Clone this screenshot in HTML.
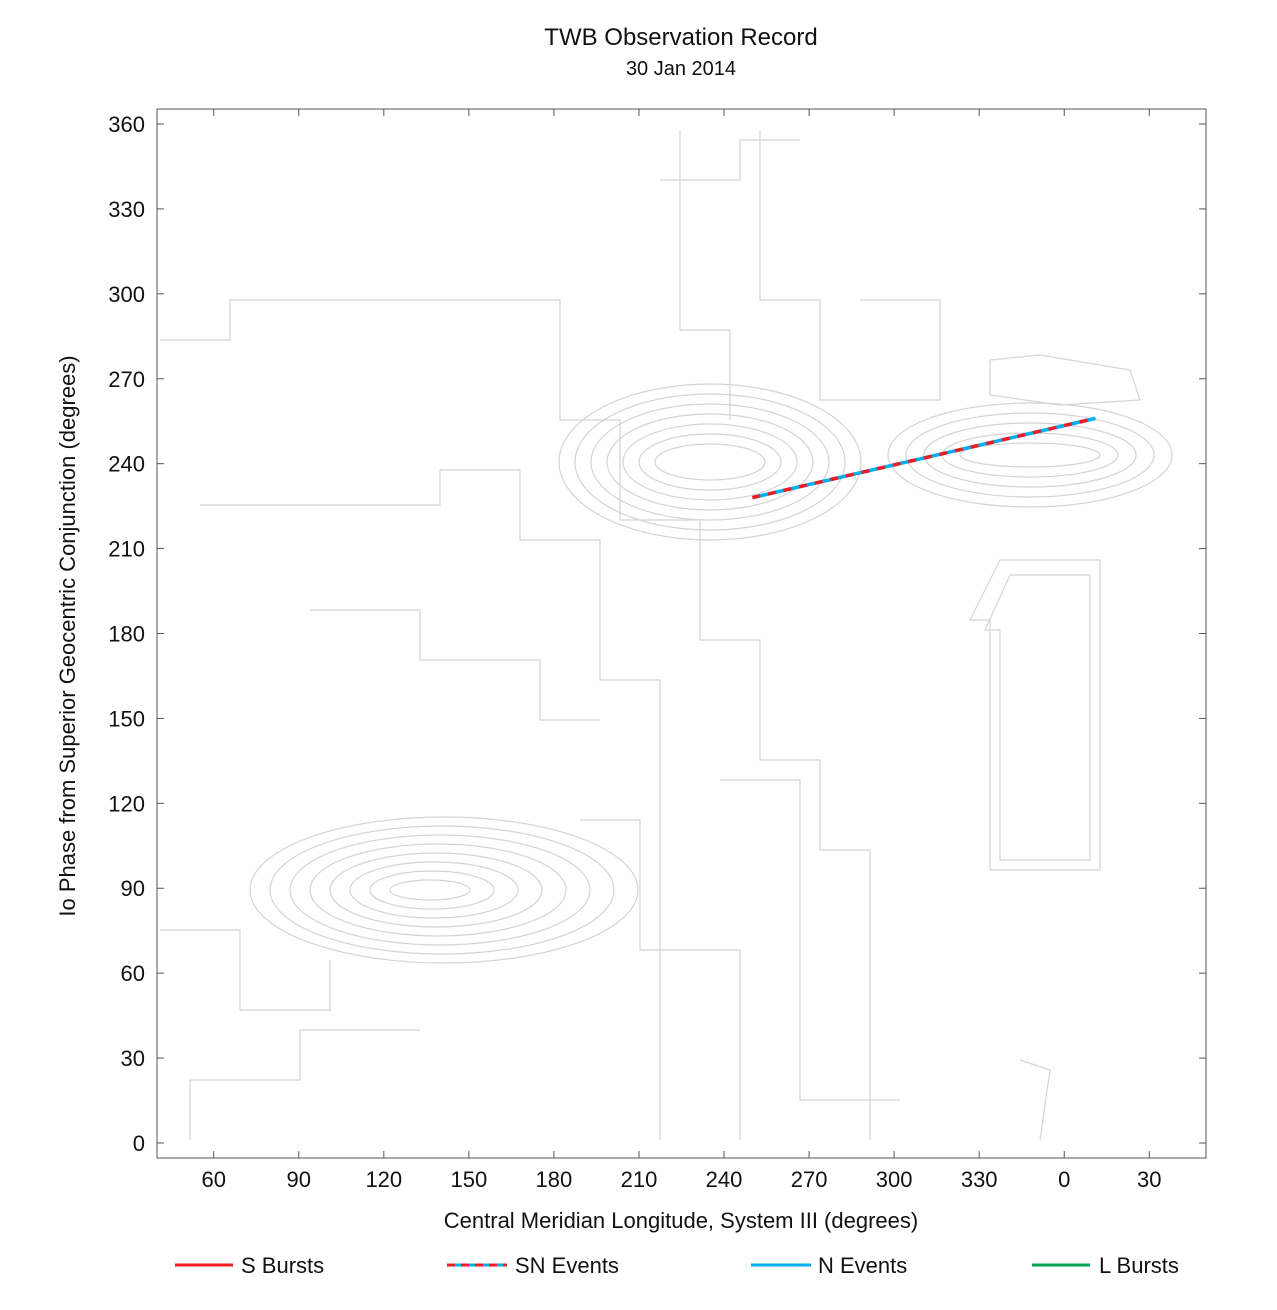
<!DOCTYPE html>
<html><head><meta charset="utf-8"><style>
body{margin:0;background:#fff;font-family:"Liberation Sans",sans-serif}
svg text{font-family:"Liberation Sans",sans-serif;fill:#111}
</style></head><body>
<svg id="chart" width="1277" height="1305" xmlns="http://www.w3.org/2000/svg">
<rect width="1277" height="1305" fill="#fff"/>
<text x="681" y="45" font-size="24" text-anchor="middle">TWB Observation Record</text>
<text x="681" y="75" font-size="20" text-anchor="middle">30 Jan 2014</text>
<g id="contours" fill="none" stroke="#d4d4d4" stroke-width="1.2"></g>
<g id="marks"></g>
<rect x="157" y="109" width="1049" height="1049" fill="none" stroke="#555" stroke-width="1"/>
<g id="axes"></g>
<text x="681" y="1228" font-size="22" text-anchor="middle">Central Meridian Longitude, System III (degrees)</text>
<text transform="translate(75,636) rotate(-90)" font-size="22" text-anchor="middle">Io Phase from Superior Geocentric Conjunction (degrees)</text>
<g>
<g><line x1="175" y1="1265" x2="233" y2="1265" stroke="#ee1c24" stroke-width="3"/><text x="241" y="1273" font-size="22">S Bursts</text></g>
<g><line x1="447" y1="1265" x2="507" y2="1265" stroke="#00aeef" stroke-width="3"/><line x1="447" y1="1265" x2="507" y2="1265" stroke="#ee1c24" stroke-width="3" stroke-dasharray="8 6"/><text x="515" y="1273" font-size="22">SN Events</text></g>
<g><line x1="751" y1="1265" x2="811" y2="1265" stroke="#00aeef" stroke-width="3"/><text x="818" y="1273" font-size="22">N Events</text></g>
<g><line x1="1032" y1="1265" x2="1090" y2="1265" stroke="#00a650" stroke-width="3"/><text x="1099" y="1273" font-size="22">L Bursts</text></g>
</g>
</svg>
<script>
const xTicks=[60,90,120,150,180,210,240,270,300,330,360,390];
const xTickLabels=["60","90","120","150","180","210","240","270","300","330","0","30"];
const yTicks=[0,30,60,90,120,150,180,210,240,270,300,330,360];
const snStartCML=[250];
const snEndCML=[371];
const snStartPhase=[228];
const snEndPhase=[256];
const NS="http://www.w3.org/2000/svg";
const X0=157,X1=1206,Y0=109,Y1=1158,XMIN=40,XMAX=410,YMIN=-5.3,YMAX=365.3;
function sx(v){return X0+(v-XMIN)/(XMAX-XMIN)*(X1-X0);}
function sy(v){return Y1-(v-YMIN)/(YMAX-YMIN)*(Y1-Y0);}
function mk(t,a,p){const e=document.createElementNS(NS,t);for(const k in a)e.setAttribute(k,a[k]);(p).appendChild(e);return e;}
const axes=document.getElementById('axes');
xTicks.forEach((v,i)=>{
 const x=sx(v);
 const l=mk('line',{x1:x,x2:x,y1:Y1,y2:Y1-7,stroke:'#555'},axes);
 
 
 const l2=mk('line',{x1:x,x2:x,y1:Y0,y2:Y0+7,stroke:'#555'},axes);
 
 
 const t=mk('text',{x:x,y:1187,'font-size':22,'text-anchor':'middle'},axes);
 t.textContent=xTickLabels[i];
 
 
});
yTicks.forEach(v=>{
 const y=sy(v);
 const l=mk('line',{x1:X0,x2:X0+7,y1:y,y2:y,stroke:'#555'},axes);
 
 
 const l2=mk('line',{x1:X1,x2:X1-7,y1:y,y2:y,stroke:'#555'},axes);
 
 
 const t=mk('text',{x:145,y:y+8,'font-size':22,'text-anchor':'end'},axes);
 t.textContent=String(v);
 
 
});
// background contour approximation
const cg=document.getElementById('contours');
function ell(cx,cy,rx,ry){const e=mk('ellipse',{cx,cy,rx,ry},cg);}
for(let i=0;i<8;i++){ell(430+i*2,890,40+i*22,10+i*9);}
for(let i=0;i<7;i++){ell(710,462,55+i*16,18+i*10);}
for(let i=0;i<5;i++){ell(1030,455,70+i*18,12+i*10);}
const polys=[
"M160,340 L230,340 L230,300 L560,300 L560,420 L620,420 L620,520 L700,520 L700,640 L760,640 L760,760 L820,760 L820,850 L870,850 L870,1140",
"M200,505 L440,505 L440,470 L520,470 L520,540 L600,540 L600,680 L660,680 L660,1140",
"M310,610 L420,610 L420,660 L540,660 L540,720 L600,720",
"M970,620 L1000,560 L1100,560 L1100,870 L990,870 L990,620 Z",
"M985,630 L1010,575 L1090,575 L1090,860 L1000,860 L1000,630 Z",
"M990,360 L1040,355 L1130,370 L1140,400 L1060,405 L990,395 Z",
"M680,130 L680,330 L730,330 L730,420",
"M760,130 L760,300 L820,300 L820,400 L940,400 L940,300 L860,300",
"M190,1140 L190,1080 L300,1080 L300,1030 L420,1030",
"M160,930 L240,930 L240,1010 L330,1010 L330,960",
"M1020,1060 L1050,1070 L1040,1140",
"M660,180 L740,180 L740,140 L800,140",
"M580,820 L640,820 L640,950 L740,950 L740,1140",
"M720,780 L800,780 L800,1100 L900,1100"
];
polys.forEach(d=>{mk('path',{d},cg);});
// SN event line
const marks=document.getElementById('marks');
snStartCML.forEach((c,i)=>{
 const a={x1:sx(snStartCML[i]),y1:sy(snStartPhase[i]),x2:sx(snEndCML[i]),y2:sy(snEndPhase[i])};
 const b=mk('line',Object.assign({stroke:'#00aeef','stroke-width':3.5},a),marks);
 
 
 const r=mk('line',Object.assign({stroke:'#ee1c24','stroke-width':3.5,'stroke-dasharray':'8 8'},a),marks);
 
 
});
</script>
</body></html>
